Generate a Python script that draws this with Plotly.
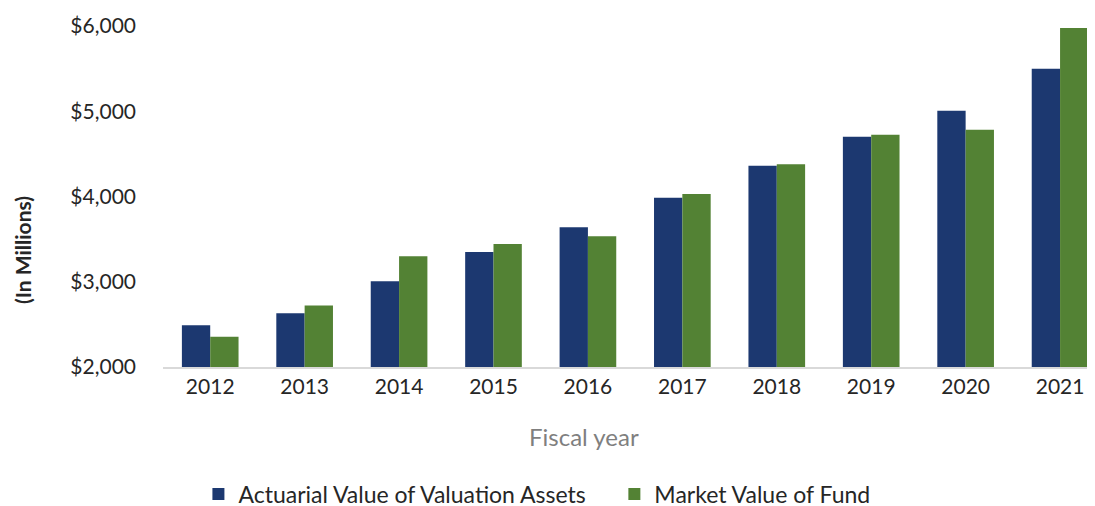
import plotly.graph_objects as go

years = ["2012", "2013", "2014", "2015", "2016", "2017", "2018", "2019", "2020", "2021"]
actuarial = [2490, 2630, 3005, 3350, 3640, 3986, 4361, 4702, 5006, 5498]
market = [2355, 2720, 3300, 3443, 3533, 4030, 4378, 4725, 4784, 5978]
yticks = [2000, 3000, 4000, 5000, 6000]
ytick_labels = ["$2,000", "$3,000", "$4,000", "$5,000", "$6,000"]
series_names = ["Actuarial Value of Valuation Assets", "Market Value of Fund"]

FONT = "Lato"
fig = go.Figure()
fig.add_trace(go.Bar(x=years, y=actuarial, name=series_names[0] + "\u00a0" * 4,
                     marker=dict(color="#1c3870", line=dict(width=0))))
fig.add_trace(go.Bar(x=years, y=market, name=series_names[1],
                     marker=dict(color="#538234", line=dict(width=0))))

fig.update_layout(
    width=1095, height=506,
    margin=dict(l=155, r=8, t=18, b=147),
    paper_bgcolor="white", plot_bgcolor="white",
    barmode="group", bargap=0.4, bargroupgap=0,
    font=dict(family=FONT, size=18, color="#262626"),
    showlegend=True,
    legend=dict(orientation="h", x=0.038, xanchor="left", xref="paper",
                y=20 / 506, yref="container", yanchor="middle",
                font=dict(family=FONT, size=23, color="#262626"), itemwidth=30,
                tracegroupgap=0, traceorder="normal"),
    xaxis=dict(type="category", range=[-0.5, 9.37], showgrid=False, zeroline=False,
               showline=True, linecolor="#d9d9d9", linewidth=1.5, ticks="",
               automargin=False,
               tickfont=dict(family=FONT, size=21, color="#262626")),
    yaxis=dict(range=[2000, 6000], tickvals=yticks, ticktext=ytick_labels,
               showgrid=False, zeroline=False, showline=False, ticks="",
               ticklabelstandoff=26, automargin=False,
               tickfont=dict(family=FONT, size=21, color="#262626")),
    annotations=[
        dict(text="<b>(In Millions)</b>", x=-0.151, y=0.344, xref="paper", yref="paper",
             textangle=-90, showarrow=False, xanchor="center", yanchor="middle",
             font=dict(family=FONT, size=21, color="#262626")),
        dict(text="Fiscal year", x=(584 - 163) / 932, y=(367 - 436) / 341, xref="paper", yref="paper",
             showarrow=False, xanchor="center", yanchor="middle",
             font=dict(family=FONT, size=24, color="#7f7f7f")),
    ],
)

fig.write_html("out.html")
